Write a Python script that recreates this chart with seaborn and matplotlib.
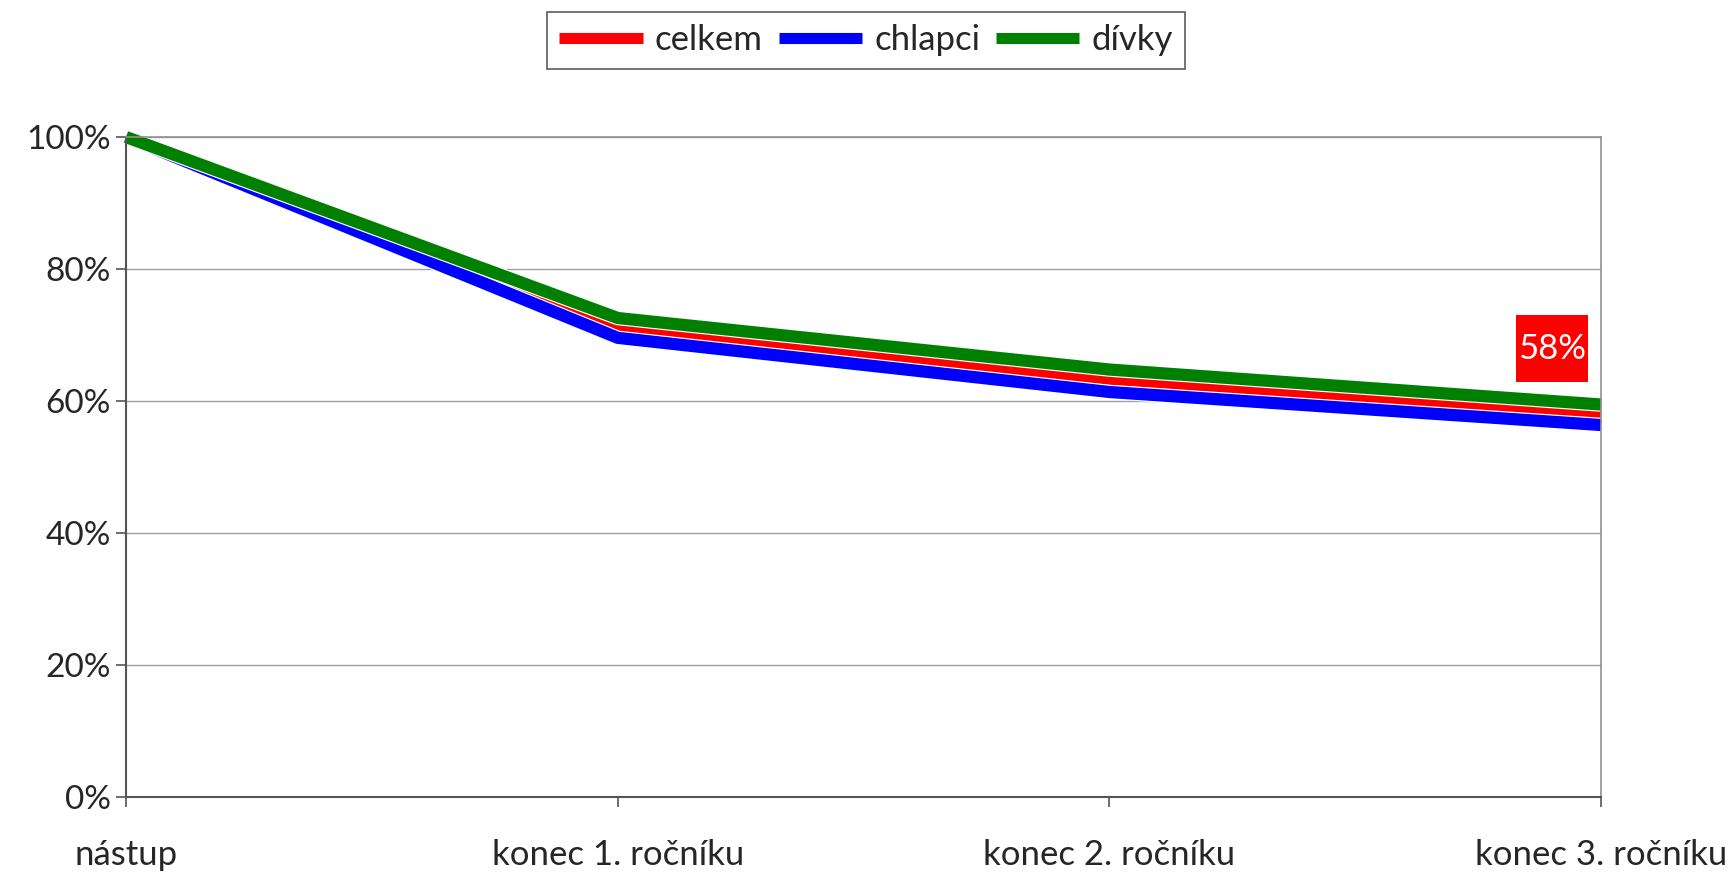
import matplotlib

matplotlib.use("Agg")
import matplotlib.pyplot as plt
import matplotlib.patheffects as pe
import matplotlib.transforms as mtransforms
import pandas as pd
import seaborn as sns

stages = ["nástup", "konec 1. ročníku", "konec 2. ročníku", "konec 3. ročníku"]
celkem = [100, 71.1, 63.4, 58.2]
chlapci = [100, 69.6, 61.4, 56.4]
divky = [100, 72.6, 64.8, 59.5]

series_names = ["celkem", "chlapci", "dívky"]
series_colors = {"celkem": "#ff0000", "chlapci": "#0000ff", "dívky": "#008000"}

df = pd.DataFrame({"stage": stages, "celkem": celkem, "chlapci": chlapci, "dívky": divky})
long = df.melt(id_vars="stage", var_name="skupina", value_name="podil")
long["x"] = long["stage"].map({s: i for i, s in enumerate(stages)})

sns.set_style("white")
plt.rcParams["font.family"] = ["Lato", "DejaVu Sans"]

fig = plt.figure(figsize=(17.32, 8.73), dpi=100)
ax = fig.add_axes([0.0728, 0.0865, 0.8516, 0.7565])

sns.lineplot(
    data=long,
    x="x",
    y="podil",
    hue="skupina",
    hue_order=series_names,
    palette=series_colors,
    linewidth=8.8,
    ax=ax,
    legend=False,
)
for line in ax.get_lines():
    line.set_path_effects([pe.Stroke(linewidth=10.5, foreground="white"), pe.Normal()])
    line.set_solid_capstyle("butt")
    line.set_clip_on(False)

ax.set_xlim(0, len(stages) - 1)
ax.set_ylim(0, 100)
ax.set_yticks(range(0, 101, 20))
ax.set_yticklabels([f"{v}%" for v in range(0, 101, 20)], fontsize=24)
ax.set_xticks(range(len(stages)))
ax.set_xticklabels(stages, fontsize=25)
ax.set_xlabel("")
ax.set_ylabel("")
ax.yaxis.grid(True, color="#a0a0a0", linewidth=1)
ax.set_axisbelow(True)
ax.tick_params(axis="both", length=7, width=1.2, color="#555555", direction="out",
               left=True, bottom=True, pad=4)
ax.tick_params(axis="x", pad=23)
for side in ["left", "bottom"]:
    ax.spines[side].set_color("#555555")
    ax.spines[side].set_linewidth(1.5)
for side in ["top", "right"]:
    ax.spines[side].set_color("#909090")
    ax.spines[side].set_linewidth(1.2)

# data label box at the end of celkem (offset in inches from the data point)
end_x, end_y = len(stages) - 1, celkem[-1]
box_trans = fig.dpi_scale_trans + mtransforms.ScaledTranslation(end_x, end_y, ax.transData)
ax.add_patch(plt.Rectangle((-0.85, 0.31), 0.72, 0.67, transform=box_trans,
                           facecolor="#ff0000", edgecolor="none", clip_on=False, zorder=5))
ax.text(-0.49, 0.645, f"{celkem[-1]:.0f}%", transform=box_trans, ha="center", va="center",
        fontsize=25, color="white", zorder=6)

handles = [plt.Line2D([], [], color=series_colors[n], linewidth=8, solid_capstyle="butt")
           for n in series_names]
leg = fig.legend(
    handles,
    series_names,
    loc="upper center",
    bbox_to_anchor=(0.5, 0.986),
    borderaxespad=0,
    ncol=3,
    fontsize=25,
    frameon=True,
    fancybox=False,
    edgecolor="#333333",
    handlelength=2.4,
    handletextpad=0.35,
    columnspacing=0.45,
    borderpad=0.35,
)
leg.get_frame().set_linewidth(1.2)

fig.savefig("out.png", dpi=100)
